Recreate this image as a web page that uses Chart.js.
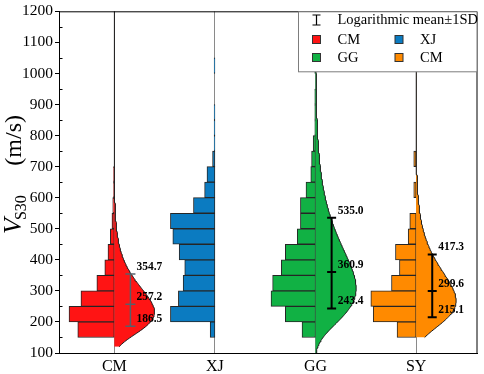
<!DOCTYPE html>
<html>
<head>
<meta charset="utf-8">
<script src="https://cdn.jsdelivr.net/npm/chart.js@4.4.0/dist/chart.umd.min.js"></script>
<style>
    html, body { margin: 0; padding: 0; background: #fff; }
    #wrap { width: 484px; height: 374px; }
</style>
</head>
<body>
<div id="wrap"><canvas id="chart-vs30"></canvas></div>
<script>
// groups on the x axis
const groups = ["CM", "XJ", "GG", "SY"];
const legendNames = ["CM", "XJ", "GG", "CM"];
const groupColors = ["#ff1414", "#0b7bc1", "#11b144", "#ff8a00"];

// histogram counts, bins of 50 m/s starting at 150
const binStart = 150;
const binWidth = 50;
const countsCM = [46, 57, 42, 22, 12, 8, 5, 3, 2, 1, 1];
const countsXJ = [6, 56, 46, 40, 38, 45, 53, 56, 27, 13, 10, 3, 1, 1, 1, 0, 0, 1];
const countsGG = [17, 38, 56, 54, 43, 38, 23, 19, 19, 12, 6, 5, 3, 1, 1, 1, 0, 1];
const countsSY = [24, 54, 57, 31, 21, 26, 10, 8, 0, 3, 0, 3];

// logarithmic mean ± 1SD (XJ has no fitted curve)
const logMean = [257.2, null, 360.9, 299.6];
const lowerSD = [186.5, null, 243.4, 215.1];
const upperSD = [354.7, null, 535.0, 417.3];
const curveFrom = [120, null, 100, 150];

const yTicks = [100, 200, 300, 400, 500, 600, 700, 800, 900, 1000, 1100, 1200];
const yMinorTicks = [150, 250, 350, 450, 550, 650, 750, 850, 950, 1050, 1150];

// layout constants (category units)
const unitPerCount = 0.0079;
const errOffset = 0.16;
const FONT = "'Liberation Serif', 'Times New Roman', serif";

Chart.defaults.font.family = FONT;

function histogramDataset(i, counts) {
    const c = i + 1;
    const data = [];
    counts.forEach((n, k) => {
        if (n > 0) data.push({ y: binStart + binWidth * (k + 0.5), x: [c - n * unitPerCount, c] });
    });
    return {
        type: "bar",
        data: data,
        backgroundColor: groupColors[i],
        borderColor: "#262626",
        borderWidth: 1,
        borderSkipped: false,
        barPercentage: 1,
        categoryPercentage: 1,
        grouped: false,
        order: 3,
    };
}

// log-normal density scaled to the histogram (N * bin width * pdf)
function curveDataset(i, counts) {
    const c = i + 1;
    const mu = Math.log(logMean[i]);
    const sigma = (Math.log(upperSD[i]) - Math.log(lowerSD[i])) / 2;
    const total = counts.reduce((a, b) => a + b, 0);
    const data = [];
    for (let v = curveFrom[i]; v <= 1200; v += 4) {
        const z = (Math.log(v) - mu) / sigma;
        const pdf = Math.exp(-0.5 * z * z) / (v * sigma * Math.sqrt(2 * Math.PI));
        data.push({ x: c + total * binWidth * pdf * unitPerCount, y: v });
    }
    return {
        type: "line",
        data: data,
        borderColor: "#1a1a1a",
        borderWidth: 1,
        backgroundColor: groupColors[i],
        fill: { value: c },
        pointRadius: 0,
        tension: 0,
        order: 2,
    };
}

function errorDataset(i) {
    const x = i + 1 + errOffset;
    const dark = i === 0 ? "#56606a" : "#000";
    return {
        type: "line",
        data: [
            { x: x, y: lowerSD[i] },
            { x: x, y: logMean[i] },
            { x: x, y: upperSD[i] },
        ],
        borderColor: dark,
        borderWidth: i === 0 ? 1.5 : 2,
        pointStyle: "line",
        pointRadius: i === 0 ? 5 : 4.5,
        pointBorderColor: dark,
        pointBorderWidth: i === 0 ? 1.5 : 2,
        fill: false,
        order: 1,
    };
}

const allCounts = [countsCM, countsXJ, countsGG, countsSY];
const datasets = [];
allCounts.forEach((counts, i) => datasets.push(histogramDataset(i, counts)));
allCounts.forEach((counts, i) => {
    if (logMean[i] !== null) {
        datasets.push(curveDataset(i, counts));
        datasets.push(errorDataset(i));
    }
});

const decorPlugin = {
    id: "decor",
    afterDraw(chart) {
        const { ctx, chartArea: area, scales } = chart;
        const xs = scales.x, ys = scales.y;
        ctx.save();

        // frame top / right
        ctx.strokeStyle = "#000";
        ctx.lineWidth = 1;
        ctx.beginPath();
        ctx.moveTo(area.left, area.top + 0.5);
        ctx.lineTo(area.right - 0.5, area.top + 0.5);
        ctx.lineTo(area.right - 0.5, area.bottom);
        ctx.stroke();

        // minor ticks, pointing inward
        ctx.beginPath();
        yMinorTicks.forEach((v) => {
            const y = Math.round(ys.getPixelForValue(v)) + 0.5;
            ctx.moveTo(area.left, y);
            ctx.lineTo(area.left + 3.5, y);
        });
        ctx.stroke();

        // value labels beside the error bars
        ctx.fillStyle = "#000";
        ctx.font = "bold 11.5px " + FONT;
        ctx.textAlign = "left";
        ctx.textBaseline = "middle";
        logMean.forEach((m, i) => {
            if (m === null) return;
            const x = xs.getPixelForValue(i + 1 + errOffset) + 6;
            [upperSD[i], m, lowerSD[i]].forEach((v) => {
                ctx.fillText(v.toFixed(1), x, ys.getPixelForValue(v) - 7);
            });
        });

        // y axis title: V_S30 (m/s)
        ctx.save();
        ctx.translate(21, 234);
        ctx.rotate(-Math.PI / 2);
        ctx.textBaseline = "alphabetic";
        ctx.font = "italic 26px " + FONT;
        ctx.fillText("V", 0, 0);
        const vW = ctx.measureText("V").width - 2;
        ctx.font = "16px " + FONT;
        ctx.fillText("S30", vW, 5);
        ctx.font = "24px " + FONT;
        const unitW = ctx.measureText("(m/s)").width;
        ctx.fillText("(m/s)", 119 - unitW, 0);
        ctx.restore();

        // legend
        const lx = 298.5, ly = area.top + 0.5, lw = area.right - 0.5 - lx, lh = 60;
        ctx.fillStyle = "#fff";
        ctx.fillRect(lx, ly, lw, lh);
        ctx.strokeStyle = "#7d7d7d";
        ctx.strokeRect(lx, ly, lw, lh);

        ctx.strokeStyle = "#000";
        ctx.lineWidth = 1.2;
        ctx.beginPath();
        ctx.moveTo(316.5, 15); ctx.lineTo(316.5, 25);
        ctx.moveTo(312.5, 15); ctx.lineTo(320.5, 15);
        ctx.moveTo(312.5, 25); ctx.lineTo(320.5, 25);
        ctx.stroke();

        ctx.fillStyle = "#000";
        ctx.font = "14.5px " + FONT;
        ctx.textBaseline = "middle";
        ctx.fillText("Logarithmic mean\u00b11SD", 337.5, 20.5);

        const slots = [
            [316.5, 39.5], [399, 39.5],
            [316.5, 57.5], [399, 57.5],
        ];
        slots.forEach(([sx, sy], i) => {
            ctx.fillStyle = groupColors[i];
            ctx.fillRect(sx - 4, sy - 4, 8, 8);
            ctx.strokeStyle = "#333";
            ctx.lineWidth = 1;
            ctx.strokeRect(sx - 4, sy - 4, 8, 8);
            ctx.fillStyle = "#000";
            ctx.fillText(legendNames[i], sx + 21, sy + 0.5);
        });

        ctx.restore();
    },
};

const canvas = document.getElementById("chart-vs30");
canvas.chart = new Chart(canvas, {
    type: "bar",
    data: { datasets: datasets },
    options: {
        indexAxis: "y",
        responsive: true,
        maintainAspectRatio: false,
        animation: false,
        layout: { padding: { top: 6, right: 4, left: 0, bottom: 0 } },
        plugins: {
            legend: { display: false },
            tooltip: { enabled: false },
        },
        scales: {
            x: {
                type: "linear",
                min: 0.45,
                max: 4.61,
                offset: false,
                afterBuildTicks: (axis) => {
                    axis.ticks = groups.map((g, i) => ({ value: i + 1 }));
                },
                afterFit: (axis) => { axis.height = 21; },
                ticks: {
                    callback: (v) => groups[v - 1],
                    color: "#000",
                    font: { family: FONT, size: 16 },
                    padding: 4,
                    maxRotation: 0,
                    autoSkip: false,
                },
                grid: { color: "#8a8a8a", drawTicks: false, offset: false },
                border: { color: "#000", width: 1 },
            },
            y: {
                type: "linear",
                min: 100,
                max: 1200,
                offset: false,
                afterBuildTicks: (axis) => {
                    axis.ticks = yTicks.map((v) => ({ value: v }));
                },
                afterFit: (axis) => { axis.width = 59; },
                ticks: {
                    callback: (v) => String(v),
                    color: "#000",
                    font: { family: FONT, size: 15.5 },
                    padding: 2,
                },
                grid: {
                    drawOnChartArea: false,
                    drawTicks: true,
                    tickLength: 4,
                    color: "#000",
                    offset: false,
                },
                border: { color: "#000", width: 1 },
            },
        },
    },
    plugins: [decorPlugin],
});
</script>
</body>
</html>
